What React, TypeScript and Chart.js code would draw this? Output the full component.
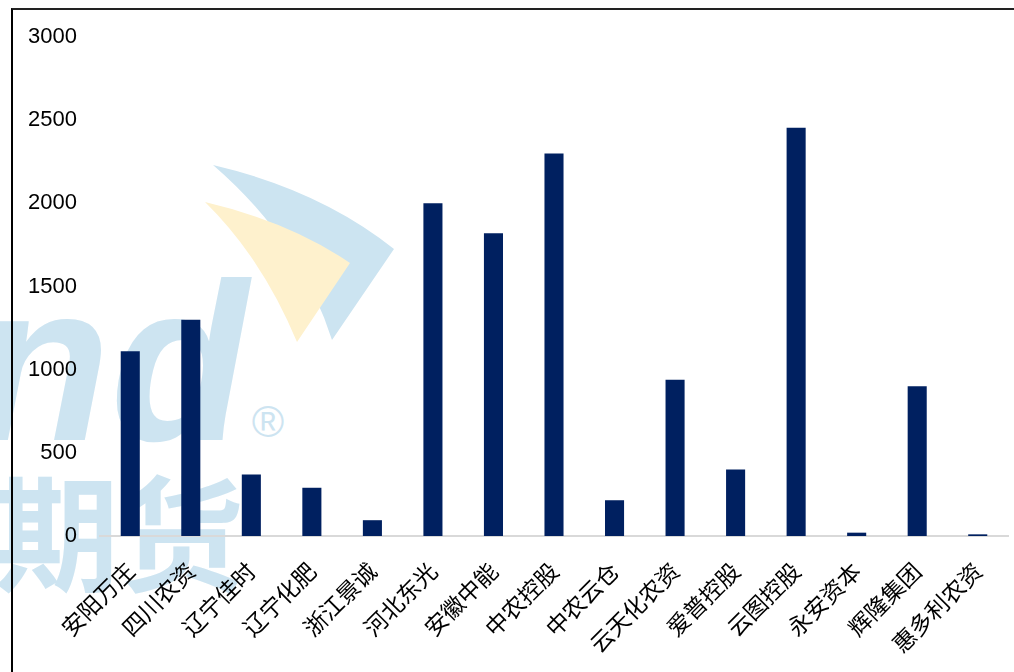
import React, { useEffect, useRef } from "react";
import { Chart, registerables } from "chart.js";

Chart.register(...registerables);

const categories: string[] = [
  "安阳万庄", "四川农资", "辽宁佳时", "辽宁化肥", "浙江景诚", "河北东光", "安徽中能", "中农控股",
  "中农云仓", "云天化农资", "爱普控股", "云图控股", "永安资本", "辉隆集团", "惠多利农资",
];
const values: number[] = [1110, 1300, 370, 290, 95, 2000, 1820, 2300, 215, 940, 400, 2455, 20, 900, 10];
const yMin = 0;
const yMax = 3000;
const yStep = 500;

export default function App() {
  const ref = useRef<HTMLCanvasElement | null>(null);
  useEffect(() => {
    if (!ref.current) return;
    const chart = new Chart(ref.current, {
      type: "bar",
      data: {
        labels: categories,
        datasets: [
          {
            data: values,
            backgroundColor: "#002060",
            borderWidth: 0,
            categoryPercentage: 1,
            barPercentage: 0.315,
          },
        ],
      },
      options: {
        responsive: false,
        animation: false,
        layout: { padding: { left: 0, top: 37, right: 6, bottom: 0 } },
        plugins: { legend: { display: false }, tooltip: { enabled: false } },
        scales: {
          x: {
            grid: { display: false },
            border: { display: true, color: "#d9d9d9", width: 2 },
            ticks: {
              autoSkip: false,
              maxRotation: 45,
              minRotation: 45,
              color: "#000",
              padding: 13,
              font: { family: "'Noto Sans CJK SC', sans-serif", size: 23 },
            },
            afterFit: (s: any) => {
              s.height = 136;
            },
          },
          y: {
            min: yMin,
            max: yMax,
            grid: { display: false, drawTicks: false },
            border: { display: false },
            ticks: {
              stepSize: yStep,
              color: "#000",
              padding: 23,
              font: { family: "'Liberation Sans', sans-serif", size: 22 },
              callback: (v: any) => String(v),
            },
            afterFit: (s: any) => {
              s.width = 100;
            },
          },
        },
      },
    });
    return () => chart.destroy();
  }, []);

  return (
    <div style={{ position: "fixed", left: 0, top: 0, width: 1014, height: 672, background: "#fff", overflow: "hidden" }}>
      <svg width={1014} height={672} style={{ position: "absolute", left: 0, top: 0 }}>
        <path d="M213,165 Q320,190 394,249 L332,340 Q300,240 213,165 Z" fill="#cce4f1" />
        <path d="M205,202 Q290,222 350,263 L297,342 Q262,258 205,202 Z" fill="#fef1cd" />
        <text x={248} y={440} textAnchor="end" fontFamily="'Liberation Sans', sans-serif" fontWeight="bold" fontStyle="italic" fontSize={225} fill="#cde4f1">Wind</text>
        <text x={244} y={582} textAnchor="end" fontFamily="'Noto Sans CJK SC', sans-serif" fontWeight="bold" fontSize={125} fill="#cde4f1">期货</text>
        <text x={268} y={437} textAnchor="middle" fontFamily="'Liberation Sans', sans-serif" fontSize={44} fill="#cde4f1">®</text>
      </svg>
      <div style={{ position: "absolute", left: 11, top: 8, width: 1100, height: 800, borderLeft: "2px solid #000", borderTop: "2px solid #222" }} />
      <canvas ref={ref} width={1014} height={672} style={{ position: "absolute", left: 0, top: 0 }} />
    </div>
  );
}
